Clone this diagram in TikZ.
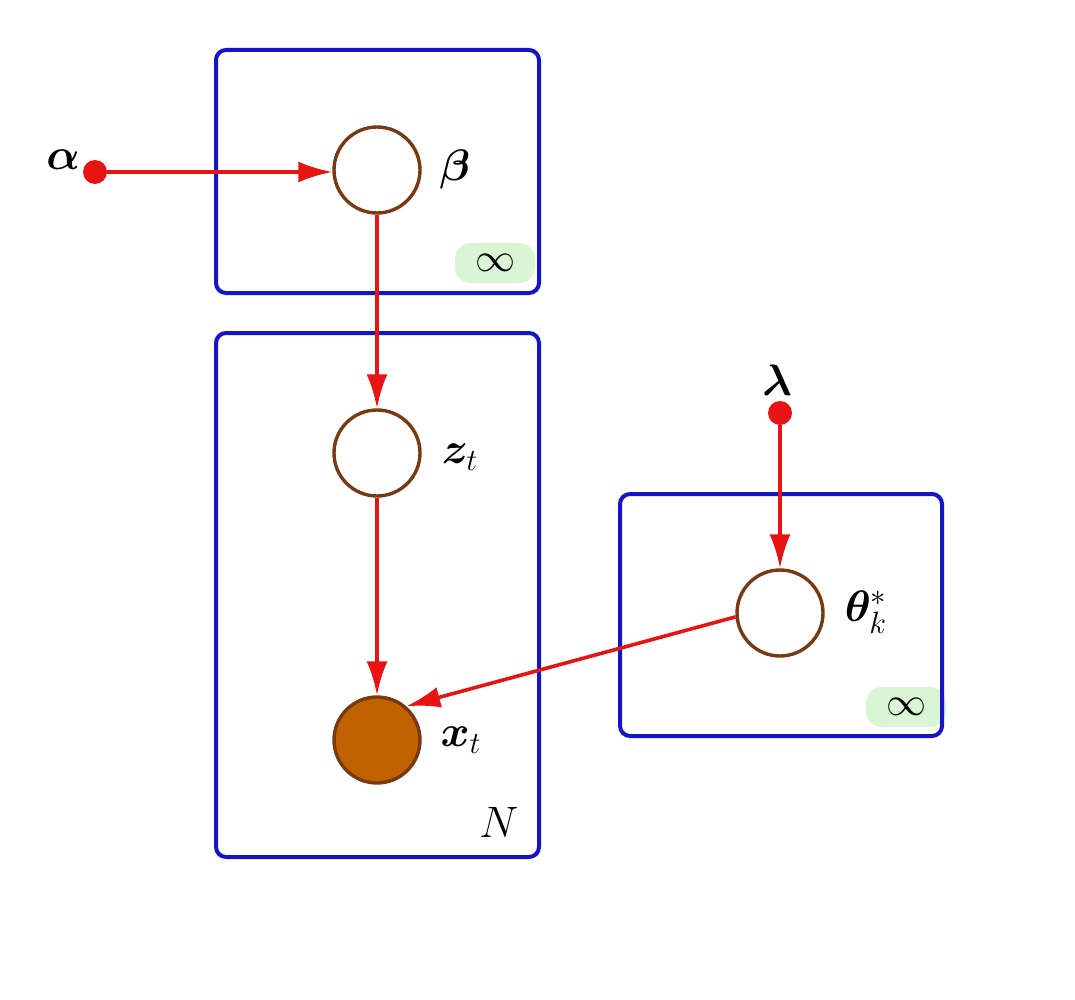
\RequirePackage{fix-cm}
\documentclass[tikz,border=0pt]{standalone}
\usepackage{amsmath}
\usepackage{bm}
\usetikzlibrary{arrows.meta}
\definecolor{plateblue}{RGB}{20,20,200}
\definecolor{nodebrown}{RGB}{120,58,18}
\definecolor{obsfill}{RGB}{192,98,0}
\definecolor{edgered}{RGB}{232,20,20}
\definecolor{infgreen}{RGB}{218,245,212}
\tikzset{
  plate/.style={draw=plateblue, line width=2pt, rounded corners=5pt},
  latent/.style={circle, draw=nodebrown, line width=1.7pt, minimum size=43pt, inner sep=0pt, fill=white},
  observed/.style={latent, fill=obsfill},
  hyper/.style={circle, fill=edgered, minimum size=12pt, inner sep=0pt},
  lbl/.style={font=\fontsize{22}{26}\selectfont, inner sep=1pt},
  inflbl/.style={font=\fontsize{20}{24}\selectfont, fill=infgreen, rounded corners=8pt, minimum width=40pt, minimum height=20pt, inner sep=0pt},
  edge/.style={draw=edgered, line width=1.8pt, -{Latex[length=17pt,width=10.5pt]}}
}
\begin{document}
\begin{tikzpicture}[x=0.5pt,y=-0.5pt]
\useasboundingbox[fill=white] (0,0) rectangle (1075,1000);
% green backgrounds of the infinity labels
\node[inflbl] (inf1) at (495,263) {$\infty$};
\node[inflbl] (inf2) at (906,707) {$\infty$};
% plates
\draw[plate] (216,50) rectangle (539,293);
\draw[plate] (216,333) rectangle (539,857);
\draw[plate] (620,494) rectangle (942,736);
% nodes
\node[latent] (beta) at (377,170) {};
\node[latent] (z) at (377,453) {};
\node[observed] (x) at (377,740) {};
\node[latent] (theta) at (780,613) {};
\node[hyper] (alpha) at (95,172) {};
\node[hyper] (lambda) at (780,413) {};
% labels
\node[lbl] (alphal) at (63,160) {$\bm{\alpha}$};
\node[lbl] (lambdal) at (777,380) {$\bm{\lambda}$};
\node[lbl] (betal) at (455,170) {$\bm{\beta}$};
\node[lbl] (zl) at (460,457) {$\bm{z}_t$};
\node[lbl] (xl) at (461,740) {$\bm{x}_t$};
\node[lbl] (thetal) at (866,612) {$\bm{\theta}^*_k$};
\node[lbl] (nl) at (499,822) {$N$};
% edges
\draw[edge] (alpha) -- (beta.west |- alpha);
\draw[edge] (beta) -- (z);
\draw[edge] (z) -- (x);
\draw[edge] (lambda) -- (theta);
\draw[edge] (theta.185) -- (x.49);
\end{tikzpicture}
\end{document}
